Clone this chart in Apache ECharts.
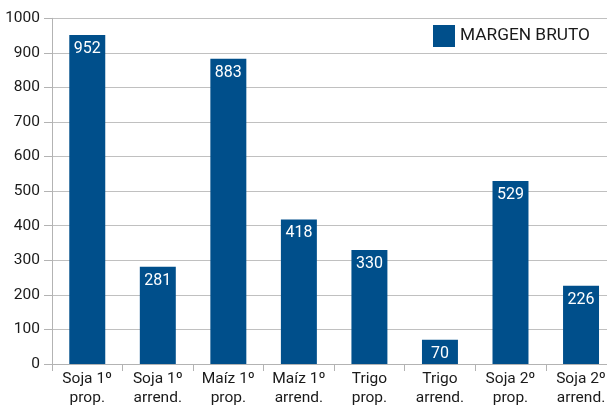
<!DOCTYPE html>
<html><head><meta charset="utf-8">
<script src="https://cdn.jsdelivr.net/npm/echarts@6/dist/echarts.min.js"></script>
<style>html,body{margin:0;padding:0;background:#fff}#c{width:607px;height:406px}</style>
</head><body><div id="c"></div>
<script>
const categories = ["Soja 1º\nprop.", "Soja 1º\narrend.", "Maíz 1º\nprop.", "Maíz 1º\narrend.", "Trigo\nprop.", "Trigo\narrend.", "Soja 2º\nprop.", "Soja 2º\narrend."];
const margenBruto = [952, 281, 883, 418, 330, 70, 529, 226];
const seriesName = "MARGEN BRUTO";
const yTicks = {min: 0, max: 1000, interval: 100};

const chart = echarts.init(document.getElementById('c'), null, {renderer: 'canvas'});
chart.setOption({
  animation: false,
  textStyle: {fontFamily: 'Roboto'},
  grid: {left: 52, top: 18.3, bottom: 42, right: -9.3, containLabel: false, outerBoundsMode: 'none'},
  legend: {
    left: 428, top: 20, itemWidth: 22, itemHeight: 22, itemGap: 10,
    icon: 'rect',
    textStyle: {fontSize: 17.3, color: '#1a1a1a', fontFamily: 'Roboto', padding: [0,0,0,0]},
    data: [seriesName]
  },
  xAxis: {
    type: 'category', data: categories,
    axisLine: {lineStyle: {color: '#b3b3b3', width: 1}},
    axisTick: {show: true, length: 7, lineStyle: {color: '#b3b3b3'}},
    axisLabel: {fontSize: 15.5, color: '#1a1a1a', lineHeight: 19, margin: 6, interval: 0}
  },
  yAxis: {
    type: 'value', min: yTicks.min, max: yTicks.max, interval: yTicks.interval,
    axisLine: {show: true, lineStyle: {color: '#b3b3b3'}},
    axisTick: {show: true, length: 8, lineStyle: {color: '#b3b3b3'}},
    splitLine: {lineStyle: {color: '#c0c0c0', width: 1}},
    axisLabel: {fontSize: 15.5, color: '#1a1a1a', margin: 12, formatter: v => String(v)}
  },
  series: [{
    name: seriesName, type: 'bar', data: margenBruto,
    barCategoryGap: '49%',
    itemStyle: {color: '#004f8b'},
    label: {show: true, position: 'insideTop', distance: 6, color: '#ffffff', fontSize: 16, fontFamily: 'Roboto'}
  }]
});
</script></body></html>
